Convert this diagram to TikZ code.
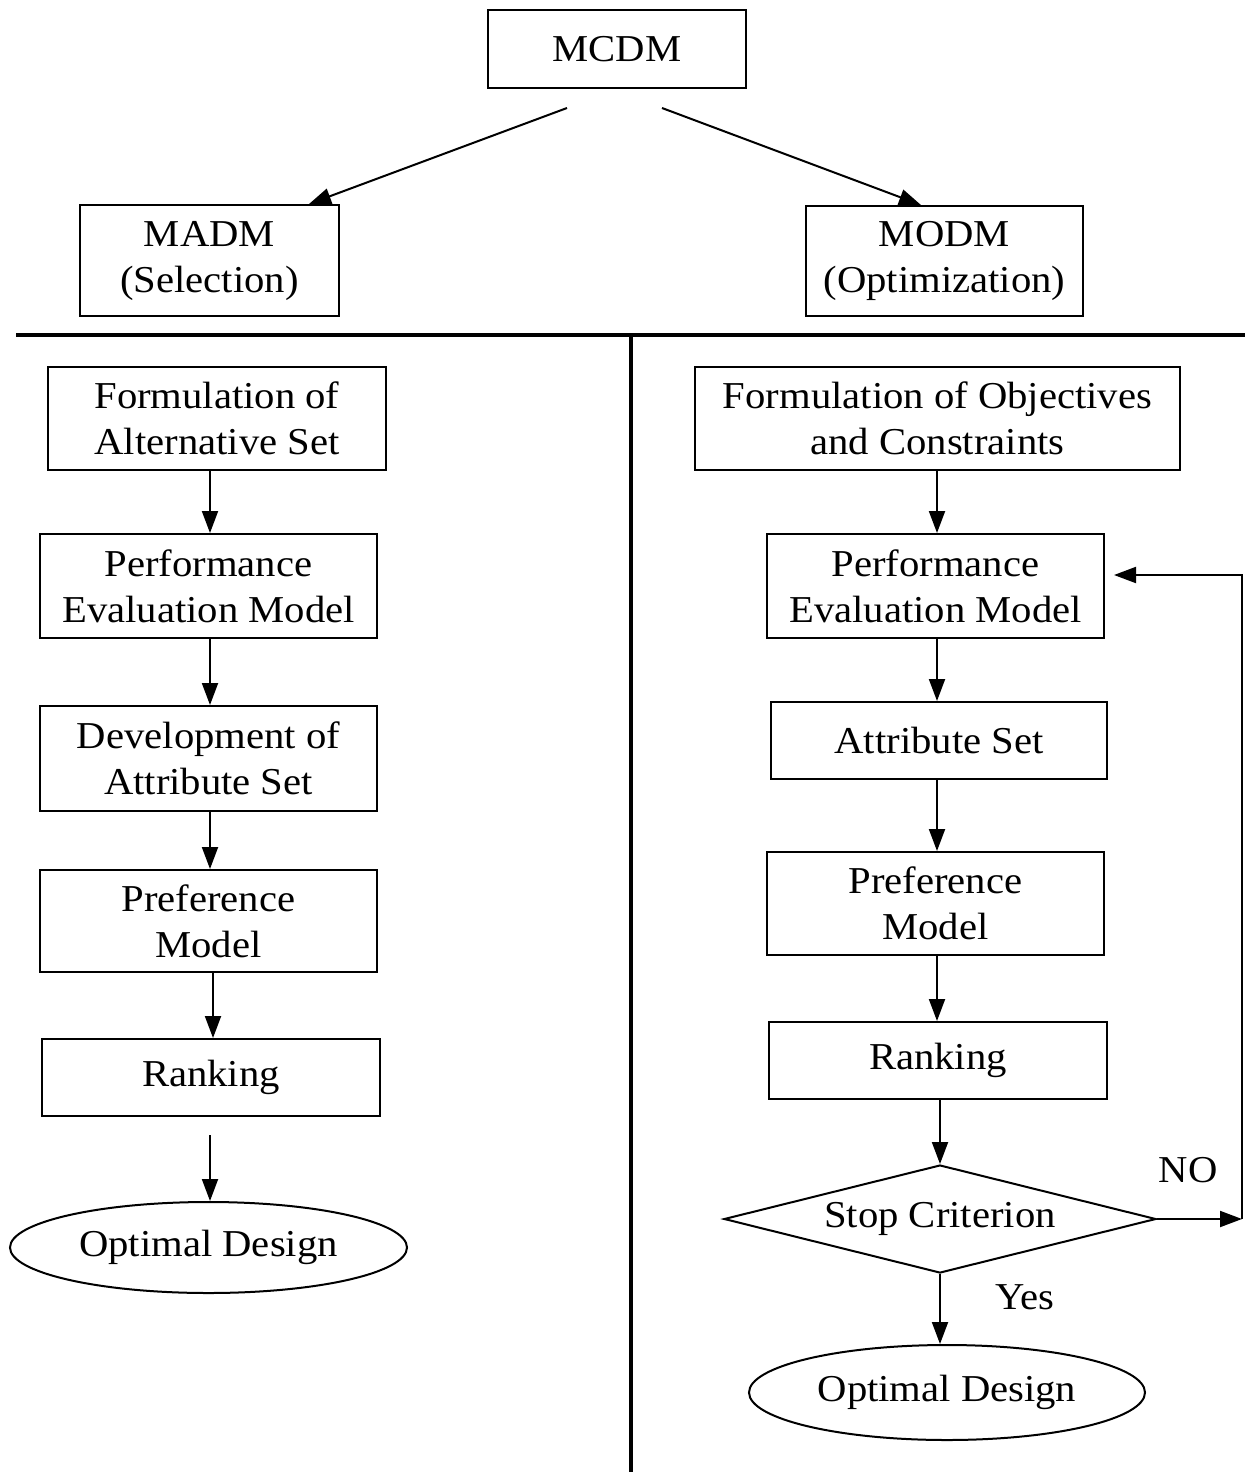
\documentclass[tikz,border=0pt]{standalone}
\usepackage{fontspec}
\setmainfont{Liberation Serif}[FakeStretch=1.07]
\usetikzlibrary{shapes.geometric,arrows.meta,calc}
\begin{document}
\begin{tikzpicture}[x=0.5pt,y=-0.5pt,
  txt/.style={font=\fontsize{19}{23}\selectfont},
  dims/.style 2 args={minimum width=#1*0.5pt,minimum height=#2*0.5pt},
  box/.style={txt,draw,line width=1pt,rectangle,inner sep=0pt,align=center},
  oval/.style={txt,draw,line width=1pt,ellipse,inner sep=0pt},
  decision/.style={txt,draw,line width=1pt,diamond,aspect=4,inner sep=0pt},
  arr/.style={line width=1pt,-{Triangle[length=11pt,width=8pt]}},
  sep/.style={line width=1.8pt},
  lbl/.style={txt,inner sep=0pt}]
\useasboundingbox (0,0) rectangle (1253,1472);

% top level
\node[box,dims={258}{78}] (mcdm) at (617,49) {MCDM};
\node[box,dims={259}{111}] (madm) at (209.5,260.5) {MADM\\(Selection)};
\node[box,dims={277}{110}] (modm) at (944.5,261) {MODM\\(Optimization)};

\coordinate (splitL) at (567,108);
\coordinate (splitR) at (662,108);
\draw[arr] (splitL) -- ($(madm.north east)+(-31,0)$);
\draw[arr] (splitR) -- ($(modm.north west)+(116,0)$);

% separators
\draw[sep] (16,335) -- (1245,335);
\draw[sep] (631,335) -- (631,1472);

% selection branch
\node[box,dims={338}{103}] (f1) at (217,418.5) {Formulation of\\Alternative Set};
\node[box,dims={337}{104}] (p1) at (208.5,586) {Performance\\Evaluation Model};
\node[box,dims={337}{105}] (d1) at (208.5,758.5) {Development of\\Attribute Set};
\node[box,dims={337}{102}] (q1) at (208.5,921) {Preference\\Model};
\node[box,dims={338}{77}] (k1) at (211,1077.5) {Ranking};
\node[oval,dims={397}{91}] (o1) at (208.5,1247.5) {Optimal Design};

\draw[arr] (f1.south -| 210,0) -- (p1.north -| 210,0);
\draw[arr] (p1.south -| 210,0) -- (d1.north -| 210,0);
\draw[arr] (d1.south -| 210,0) -- (q1.north -| 210,0);
\draw[arr] (q1.south -| 213,0) -- (k1.north -| 213,0);
\coordinate (k1gap) at (210,1135);
\draw[arr] (k1gap) -- (o1.north -| k1gap);

% optimization branch
\node[box,dims={485}{103}] (f2) at (937.5,418.5) {Formulation of Objectives\\and Constraints};
\node[box,dims={337}{104}] (p2) at (935.5,586) {Performance\\Evaluation Model};
\node[box,dims={336}{77}] (a2) at (939,740.5) {Attribute Set};
\node[box,dims={337}{103}] (q2) at (935.5,903.5) {Preference\\Model};
\node[box,dims={338}{77}] (k2) at (938,1060.5) {Ranking};
\node[decision,dims={432}{108}] (s2) at (940,1219) {Stop Criterion};
\node[oval,dims={396}{95}] (o2) at (947,1392.5) {Optimal Design};

\draw[arr] (f2.south -| 937,0) -- (p2.north -| 937,0);
\draw[arr] (p2.south -| 937,0) -- (a2.north -| 937,0);
\draw[arr] (a2.south -| 937,0) -- (q2.north -| 937,0);
\draw[arr] (q2.south -| 937,0) -- (k2.north -| 937,0);
\draw[arr] (k2.south -| s2.north) -- (s2.north);
\draw[arr] (s2.south) -- (o2.north -| s2.south);

% feedback loop
\coordinate (loopB) at (1242,1219);
\coordinate (loopT) at (1242,575);
\coordinate (loopE) at ($(p2.east |- loopT)+(9,0)$);
\draw[arr] (s2.east) -- (loopB);
\draw[arr] (loopB) -- (loopT) -- (loopE);

\node[lbl] (no) at (1188,1170) {NO};
\node[lbl] (yes) at (1025,1297) {Yes};
\end{tikzpicture}
\end{document}
